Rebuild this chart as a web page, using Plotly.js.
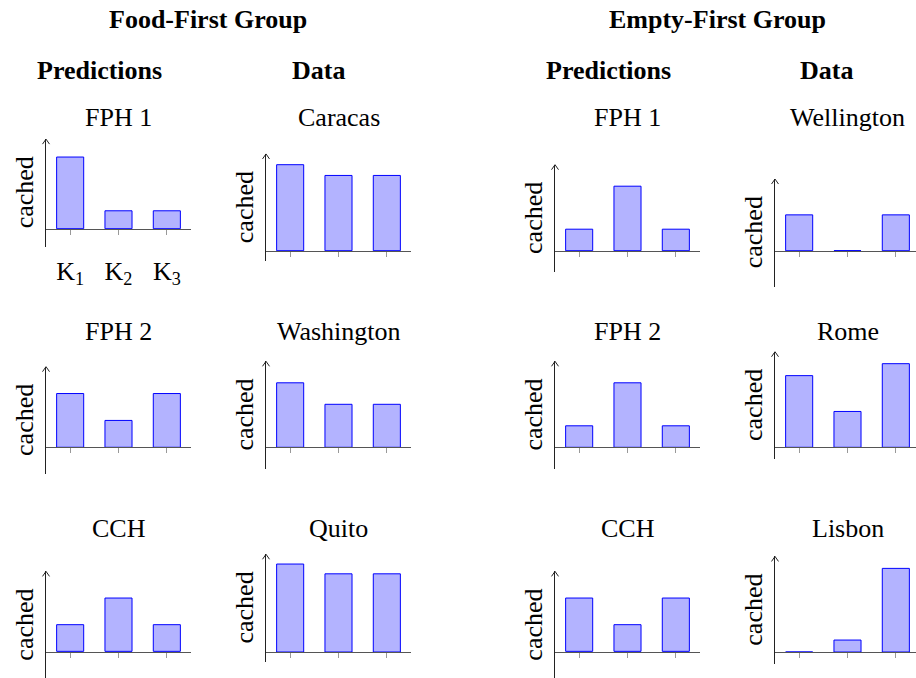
<!DOCTYPE html>
<html>
<head>
<meta charset="utf-8">
<script src="https://cdn.plot.ly/plotly-3.0.1.min.js"></script>
<style>html,body{margin:0;padding:0;background:#fff;}#chart{width:916px;height:678px;}</style>
</head>
<body>
<div id="chart"></div>
<script>
// ---- data ----
const categories = ['K<sub>1</sub>', 'K<sub>2</sub>', 'K<sub>3</sub>'];
const groupTitles = ['Food-First Group', 'Empty-First Group'];
const columnTitles = ['Predictions', 'Data', 'Predictions', 'Data'];
const panelTitles = ['FPH 1', 'Caracas', 'FPH 1', 'Wellington',
                     'FPH 2', 'Washington', 'FPH 2', 'Rome',
                     'CCH', 'Quito', 'CCH', 'Lisbon'];
const yLabel = 'cached';

const foodFph1 = [4, 1, 1];
const caracas = [8, 7, 7];
const emptyFph1 = [1, 3, 1];
const wellington = [1, 0, 1];
const foodFph2 = [2, 1, 2];
const washington = [3, 2, 2];
const emptyFph2 = [1, 3, 1];
const rome = [6, 3, 7];
const foodCch = [1, 2, 1];
const quito = [9, 8, 8];
const emptyCch = [2, 1, 2];
const lisbon = [0, 1, 7];

const panelSeries = [foodFph1, caracas, emptyFph1, wellington,
                     foodFph2, washington, emptyFph2, rome,
                     foodCch, quito, emptyCch, lisbon];

// ---- layout geometry (pixels) ----
const W = 916, H = 678;
const colX = [46, 266, 555, 775];
const rowBase = [250.7, 447.3, 652];
const firstBase = 228.7;
const axisH = 107.5;
const xUnitPx = 48.33;
const titleY = [117.5, 331.7, 528.3];
const FONT = 'Liberation Serif, Times New Roman, serif';
const fillColor = 'rgb(179,179,255)';
const edgeColor = 'rgb(0,0,255)';

const px = x => x / W;
const py = y => 1 - y / H;

const traces = [];
const layout = {
  width: W, height: H,
  margin: {l: 0, r: 0, t: 0, b: 0},
  paper_bgcolor: '#fff', plot_bgcolor: 'rgba(0,0,0,0)',
  showlegend: false,
  bargap: 0.44,
  font: {family: FONT, size: 26, color: '#000'},
  annotations: [],
  shapes: []
};

panelSeries.forEach((vals, i) => {
  const r = Math.floor(i / 4), c = i % 4;
  const base = (i === 0) ? firstBase : rowBase[r];
  const ymin = -1, ymax = Math.max(...vals) + 1;
  const unit = axisH / (ymax - ymin);
  const bottomPx = base - ymin * unit;
  const topPx = base - ymax * unit;
  const x0 = colX[c];
  const x1 = Math.min(x0 + 3 * xUnitPx, W);
  const xr1 = -0.5 + (x1 - x0) / xUnitPx;
  const sx = i === 0 ? '' : String(i + 1);
  const xid = 'x' + sx, yid = 'y' + sx;

  traces.push({
    type: 'bar', x: categories, y: vals,
    xaxis: xid, yaxis: yid,
    marker: {color: fillColor, line: {color: edgeColor, width: 1}},
    hoverinfo: 'skip'
  });

  layout['xaxis' + sx] = {
    type: 'category', domain: [px(x0), px(x1)], anchor: 'free', position: py(base),
    range: [-0.5, xr1], showline: true, linecolor: '#555', linewidth: 1,
    ticks: 'outside', ticklen: 5, tickcolor: '#999', tickwidth: 1,
    showgrid: false, zeroline: false, showticklabels: i === 0,
    tickfont: {family: FONT, size: 26, color: '#000'}, ticklabelstandoff: 14,
    fixedrange: true
  };
  layout['yaxis' + sx] = {
    domain: [py(bottomPx), py(topPx)], anchor: xid, range: [ymin, ymax],
    showline: true, linecolor: '#222', linewidth: 1,
    showgrid: false, zeroline: false, showticklabels: false, ticks: '',
    fixedrange: true
  };

  // arrow head on y axis (chevron)
  layout.shapes.push({
    type: 'path', xref: 'paper', yref: 'paper',
    xsizemode: 'pixel', ysizemode: 'pixel',
    xanchor: px(x0), yanchor: py(topPx),
    path: 'M-3.5,-5L0,0L3.5,-5',
    line: {color: '#222', width: 1}
  });
  // y label
  layout.annotations.push({
    xref: 'paper', yref: 'paper', x: px(x0 - 21.5), y: py((topPx + bottomPx) / 2),
    text: yLabel, textangle: -90, showarrow: false,
    xanchor: 'center', yanchor: 'middle',
    font: {family: FONT, size: 26, color: '#000'}
  });
  // panel title
  layout.annotations.push({
    xref: 'paper', yref: 'paper', x: px(x0 + 72.5), y: py(titleY[r]),
    text: panelTitles[i], showarrow: false, xanchor: 'center', yanchor: 'middle',
    font: {family: FONT, size: 26, color: '#000'}
  });
});

// group and column headers
const groupX = [208, 717];
groupTitles.forEach((t, k) => layout.annotations.push({
  xref: 'paper', yref: 'paper', x: px(groupX[k]), y: py(20),
  text: '<b>' + t + '</b>', showarrow: false, xanchor: 'center', yanchor: 'middle',
  font: {family: FONT, size: 26, color: '#000'}
}));
const colHeadX = [99, 318, 608, 826.5];
columnTitles.forEach((t, k) => layout.annotations.push({
  xref: 'paper', yref: 'paper', x: px(colHeadX[k]), y: py(70),
  text: '<b>' + t + '</b>', showarrow: false, xanchor: 'center', yanchor: 'middle',
  font: {family: FONT, size: 26, color: '#000'}
}));

Plotly.newPlot('chart', traces, layout, {staticPlot: true, displayModeBar: false});
</script>
</body>
</html>
